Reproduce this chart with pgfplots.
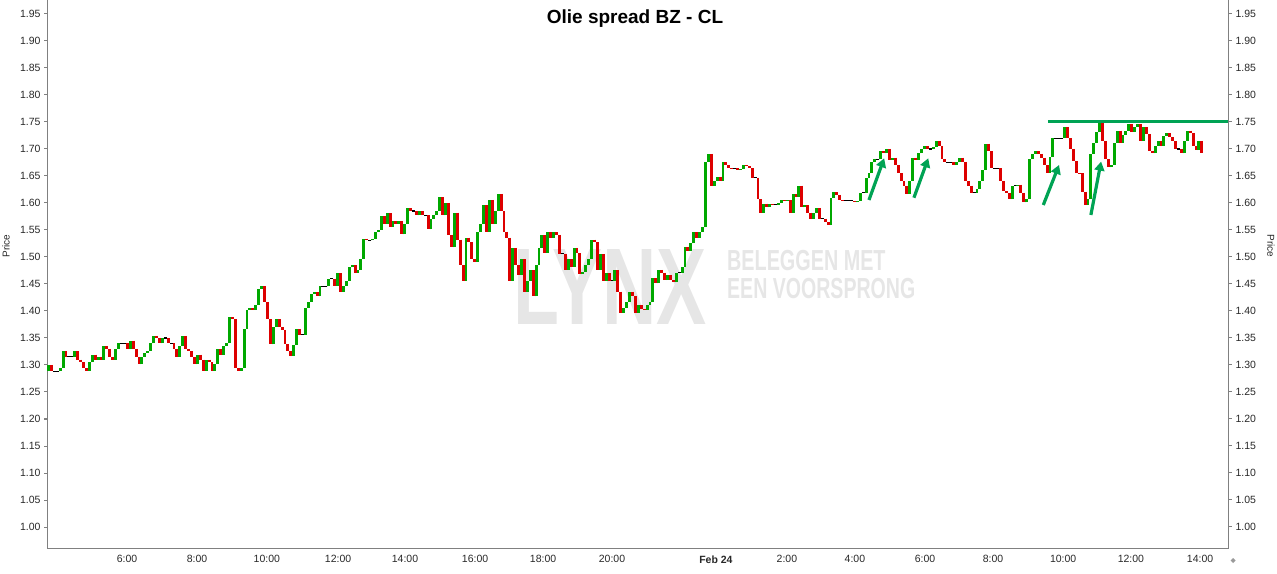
\documentclass[border=0pt]{standalone}
\usepackage{pgfplots}
\pgfplotsset{compat=1.18}
\usepackage{pgfplotstable}
\usepackage{fontspec}
\setmainfont{Liberation Sans}
\usetikzlibrary{arrows.meta}

\definecolor{upg}{RGB}{0,168,0}
\definecolor{dnr}{RGB}{221,0,0}
\definecolor{axg}{RGB}{128,128,128}
\definecolor{wm}{RGB}{230,230,230}
\definecolor{ann}{RGB}{0,163,84}
\definecolor{lbl}{RGB}{40,40,40}

\pgfplotstableread[row sep=\\]{
c\\
1.289\\
1.300\\ 1.288\\ 1.288\\ 1.288\\ 1.294\\ 1.325\\ 1.315\\ 1.315\\ 1.315\\ 1.325\\
1.310\\ 1.305\\ 1.294\\ 1.289\\ 1.305\\ 1.319\\ 1.310\\ 1.315\\ 1.310\\ 1.335\\
1.330\\ 1.315\\ 1.310\\ 1.330\\ 1.340\\ 1.340\\ 1.340\\ 1.330\\ 1.345\\ 1.330\\
1.315\\ 1.301\\ 1.315\\ 1.322\\ 1.325\\ 1.340\\ 1.354\\ 1.350\\ 1.340\\ 1.350\\
1.350\\ 1.340\\ 1.340\\ 1.330\\ 1.315\\ 1.335\\ 1.354\\ 1.330\\ 1.325\\ 1.315\\
1.301\\ 1.319\\ 1.310\\ 1.289\\ 1.310\\ 1.305\\ 1.289\\ 1.301\\ 1.330\\ 1.319\\
1.335\\ 1.340\\ 1.388\\ 1.385\\ 1.294\\ 1.289\\ 1.294\\
1.367\\ 1.402\\ 1.406\\ 1.402\\ 1.411\\ 1.441\\ 1.446\\ 1.417\\ 1.385\\ 1.338\\
1.370\\ 1.385\\ 1.370\\ 1.365\\ 1.338\\ 1.326\\ 1.317\\ 1.337\\ 1.367\\ 1.356\\
1.356\\ 1.406\\ 1.417\\ 1.432\\ 1.435\\ 1.427\\ 1.446\\ 1.446\\ 1.446\\ 1.460\\
1.460\\ 1.446\\ 1.470\\ 1.436\\ 1.446\\ 1.456\\ 1.481\\ 1.485\\ 1.471\\ 1.476\\
1.496\\ 1.534\\ 1.531\\ 1.531\\ 1.534\\ 1.546\\ 1.550\\ 1.576\\ 1.562\\ 1.581\\
1.556\\ 1.566\\ 1.562\\ 1.566\\ 1.542\\ 1.561\\ 1.590\\ 1.585\\ 1.585\\ 1.577\\
1.585\\ 1.577\\ 1.577\\ 1.551\\ 1.571\\ 1.577\\ 1.585\\ 1.611\\ 1.577\\ 1.600\\
1.541\\ 1.518\\
1.582\\ 1.532\\ 1.485\\ 1.456\\ 1.536\\ 1.527\\ 1.496\\ 1.491\\ 1.547\\ 1.561\\
1.596\\ 1.547\\ 1.606\\ 1.561\\ 1.585\\ 1.617\\ 1.585\\ 1.547\\ 1.536\\ 1.456\\
1.517\\ 1.485\\ 1.467\\ 1.496\\ 1.436\\ 1.456\\ 1.476\\ 1.427\\ 1.485\\ 1.517\\
1.541\\ 1.507\\ 1.546\\ 1.536\\ 1.546\\ 1.541\\ 1.506\\ 1.506\\ 1.476\\ 1.496\\
1.482\\ 1.517\\ 1.507\\ 1.468\\ 1.472\\ 1.485\\ 1.496\\ 1.532\\ 1.527\\ 1.476\\
1.506\\ 1.456\\ 1.470\\ 1.456\\ 1.456\\ 1.476\\ 1.436\\ 1.397\\ 1.406\\ 1.417\\
1.436\\ 1.427\\ 1.397\\ 1.411\\ 1.404\\ 1.402\\ 1.411\\ 1.416\\ 1.461\\
1.451\\ 1.476\\ 1.471\\ 1.457\\ 1.467\\ 1.457\\ 1.453\\ 1.471\\ 1.471\\ 1.482\\
1.519\\ 1.511\\ 1.525\\ 1.546\\ 1.536\\ 1.546\\ 1.555\\ 1.676\\ 1.691\\ 1.632\\
1.641\\ 1.649\\ 1.641\\ 1.675\\ 1.670\\ 1.665\\ 1.664\\ 1.664\\ 1.661\\ 1.663\\
1.670\\ 1.668\\ 1.664\\ 1.647\\ 1.647\\ 1.607\\ 1.582\\ 1.599\\ 1.592\\ 1.598\\
1.597\\ 1.597\\ 1.600\\ 1.605\\ 1.604\\ 1.605\\ 1.582\\ 1.616\\ 1.612\\ 1.632\\
1.592\\ 1.596\\ 1.582\\ 1.571\\ 1.581\\ 1.591\\ 1.571\\ 1.571\\ 1.565\\ 1.559\\
1.610\\ 1.620\\ 1.615\\ 1.605\\ 1.604\\ 1.604\\
1.604\\ 1.604\\ 1.601\\ 1.604\\ 1.619\\ 1.619\\ 1.646\\ 1.655\\ 1.675\\ 1.681\\
1.681\\ 1.696\\ 1.692\\ 1.700\\ 1.680\\ 1.684\\ 1.670\\ 1.655\\ 1.641\\ 1.632\\
1.617\\ 1.641\\ 1.684\\ 1.680\\ 1.692\\ 1.700\\ 1.706\\ 1.700\\ 1.700\\ 1.704\\
1.715\\ 1.706\\ 1.681\\ 1.675\\ 1.675\\ 1.675\\ 1.670\\ 1.675\\ 1.684\\ 1.676\\
1.641\\ 1.632\\ 1.619\\ 1.619\\ 1.626\\ 1.641\\ 1.661\\ 1.710\\ 1.696\\ 1.664\\
1.664\\ 1.664\\ 1.641\\ 1.622\\ 1.619\\ 1.607\\ 1.632\\ 1.632\\ 1.634\\ 1.619\\
1.601\\ 1.607\\ 1.681\\ 1.691\\ 1.696\\ 1.691\\ 1.684\\
1.670\\ 1.656\\ 1.685\\ 1.720\\ 1.720\\ 1.720\\ 1.720\\ 1.741\\ 1.720\\ 1.700\\
1.677\\ 1.656\\ 1.655\\ 1.621\\ 1.596\\ 1.607\\ 1.691\\ 1.711\\ 1.731\\ 1.748\\
1.715\\ 1.681\\ 1.666\\ 1.670\\ 1.712\\ 1.734\\ 1.712\\ 1.726\\ 1.734\\ 1.746\\
1.732\\ 1.740\\ 1.746\\ 1.715\\ 1.740\\ 1.728\\ 1.697\\ 1.692\\ 1.706\\ 1.715\\
1.706\\ 1.724\\ 1.730\\ 1.722\\ 1.714\\ 1.700\\ 1.700\\ 1.692\\ 1.715\\ 1.734\\
1.730\\ 1.706\\ 1.698\\ 1.715\\ 1.692\\
}\closes

% open of each bar = previous close
\pgfplotstablecreatecol[create col/assign/.code={%
  \getthisrow{c}\cur
  \getprevrow{c}\prv
  \ifx\prv\empty\let\prv\cur\fi
  \pgfkeyslet{/pgfplots/table/create col/next content}\prv
}]{o}\closes
% unchanged bars (drawn as black dashes)
\pgfplotstablecreatecol[create col/assign/.code={%
  \getthisrow{c}\cur
  \getthisrow{o}\opn
  \ifx\cur\opn\let\fl\cur\else\def\fl{nan}\fi
  \pgfkeyslet{/pgfplots/table/create col/next content}\fl
}]{fl}\closes

\begin{document}
\begin{tikzpicture}
\useasboundingbox (0,0) rectangle (1277pt,573pt);
% watermark
\node[anchor=base west, inner sep=0pt, text=wm, font=\fontsize{109}{109}\selectfont\bfseries, xscale=0.69] at (513pt,248pt) {LYNX};
\node[anchor=base west, inner sep=0pt, text=wm, font=\fontsize{29}{29}\selectfont\bfseries, xscale=0.683] at (727pt,302pt) {BELEGGEN MET};
\node[anchor=base west, inner sep=0pt, text=wm, font=\fontsize{29}{29}\selectfont\bfseries, xscale=0.675] at (727pt,274pt) {EEN VOORSPRONG};

\begin{axis}[
  at={(47pt,25pt)}, anchor=south west,
  scale only axis, width=1182pt, height=548pt,
  xmin=0.5, xmax=405.3, ymin=0.96111, ymax=1.97593,
  axis x line*=bottom, axis y line*=left,
  axis line style={-, draw=axg, line width=1pt},
  tick align=outside, major tick length=3pt,
  tick style={axg, line width=1pt},
  ytick={1.00,1.05,...,1.96},
  yticklabel style={font=\fontsize{10.5}{12}\selectfont, text=lbl, /pgf/number format/.cd, fixed, fixed zerofill, precision=2, assume math mode=true},
  xtick={27.9,51.9,75.8,100.2,123.1,147.1,170.4,194.0,229.6,253.9,277.2,301.2,324.5,348.5,371.7,395.4},
  xticklabels={6:00,8:00,10:00,12:00,14:00,16:00,18:00,20:00,\textbf{Feb 24},2:00,4:00,6:00,8:00,10:00,12:00,14:00},
  xticklabel style={font=\fontsize{10.5}{12}\selectfont, text=lbl, yshift=-1pt},
  x tick style={draw=none},
  colormap={updown}{rgb255=(221,0,0) rgb255=(0,0,0) rgb255=(0,168,0)},
  point meta min=-1, point meta max=1,
]
\addplot[
  quiver={u=0, v={\thisrow{c}-\thisrow{o}}, colored=mapped color},
  line width=2.92pt,
  point meta={(\thisrow{c}>\thisrow{o})-(\thisrow{c}<\thisrow{o})},
  restrict x to domain=0.5:1000,
] table[x expr=\coordindex, y=o] {\closes};
\addplot[only marks, mark=-, mark size=1.46pt, mark options={line width=1.2pt, draw=black},
  restrict x to domain=0.5:1000] table[x expr=\coordindex, y=fl] {\closes};
% annotations
\addplot[ann, line width=3pt] coordinates {(343.3,1.75) (405.3,1.75)};
\draw[ann, line width=3.2pt, -{Triangle[length=9pt,width=10pt]}] (axis cs:282.0,1.6056) -- (axis cs:287.2,1.6828);
\draw[ann, line width=3.2pt, -{Triangle[length=9pt,width=10pt]}] (axis cs:297.4,1.6098) -- (axis cs:302.3,1.6828);
\draw[ann, line width=3.2pt, -{Triangle[length=9pt,width=10pt]}] (axis cs:341.7,1.5963) -- (axis cs:347.1,1.6704);
\draw[ann, line width=3.2pt, -{Triangle[length=9pt,width=10pt]}] (axis cs:358.0,1.5778) -- (axis cs:361.5,1.6767);
\end{axis}

\begin{axis}[
  at={(47pt,25pt)}, anchor=south west,
  scale only axis, width=1182pt, height=548pt,
  xmin=0.5, xmax=405.3, ymin=0.96111, ymax=1.97593,
  hide x axis, axis y line*=right,
  axis line style={-, draw=axg, line width=1pt},
  tick align=outside, major tick length=3pt,
  tick style={axg, line width=1pt},
  ytick={1.00,1.05,...,1.96},
  yticklabel style={font=\fontsize{10.5}{12}\selectfont, text=lbl, /pgf/number format/.cd, fixed, fixed zerofill, precision=2, assume math mode=true},
]
\addplot[draw=none] coordinates {(1,1.5)};
\end{axis}

% title and axis titles
\node[font=\fontsize{19}{21}\selectfont\bfseries, text=black] at (635pt,554pt) {Olie spread BZ - CL};
\node[rotate=90, font=\fontsize{10}{12}\selectfont, text=lbl] at (6pt,327pt) {Price};
\node[rotate=-90, font=\fontsize{10}{12}\selectfont, text=lbl] at (1271pt,327pt) {Price};
% small corner marker
\fill[axg!80] (1233pt,10pt) -- (1235.5pt,12.5pt) -- (1233pt,15pt) -- (1230.5pt,12.5pt) -- cycle;
\end{tikzpicture}
\end{document}
